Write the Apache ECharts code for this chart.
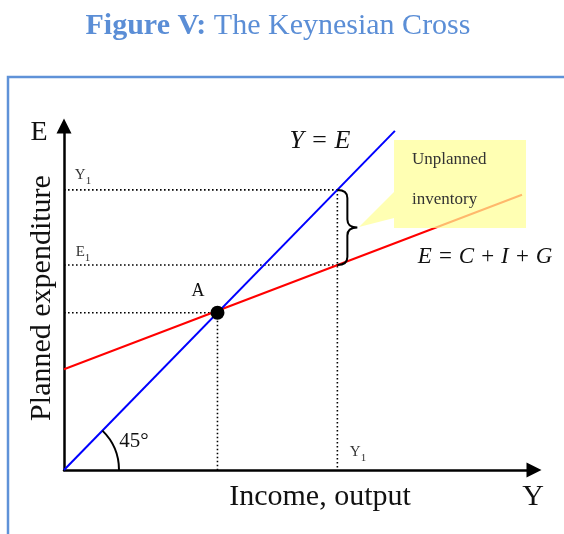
<!DOCTYPE html>
<html><head><meta charset="utf-8">
<script src="https://cdn.jsdelivr.net/npm/echarts@6/dist/echarts.min.js"></script>
<style>html,body{margin:0;padding:0;background:#fff}#c{width:564px;height:534px}</style>
</head><body><div id="c"></div>
<script>
// ---- data (in plot units) ----
const blueLine = [[0, 0], [6.9, 6.9]];        // Y = E (45° line)
const redLine = [[0, 2.05], [9.55, 5.6]];     // E = C + I + G
const pointA = [3.2, 3.2];                    // equilibrium A
const Y1 = 5.7;                               // output level Y1
const E1 = 4.17;                              // planned expenditure at Y1
const yTickLabels = ['Y', 'E'];
const xTickLabels = ['Y'];
const subscript = '1';

const FONT = 'Liberation Serif';
const guideLines = [
  [[0, Y1], [Y1, Y1]],
  [[0, E1], [Y1, E1]],
  [[0, pointA[1]], pointA],
  [pointA, [pointA[0], 0]],
  [[Y1, Y1], [Y1, 0]]
];

const chart = echarts.init(document.getElementById('c'), null, {renderer: 'canvas'});
const axisCommon = {
  type: 'value', min: 0,
  axisLine: {show: true, onZero: false, symbol: ['none', 'triangle'], symbolSize: [15, 15],
             lineStyle: {color: '#000', width: 2.5}},
  axisTick: {show: false}, axisLabel: {show: false}, splitLine: {show: false}
};

const series = [];
guideLines.forEach(g => series.push({
  type: 'line', data: g, symbol: 'none', silent: true, z: 1,
  lineStyle: {color: '#000', width: 1.6, type: [1.6, 2.4]}
}));
series.push({type: 'line', data: redLine, symbol: 'none', z: 3, lineStyle: {color: '#ff0000', width: 2}});
series.push({type: 'line', data: blueLine, symbol: 'none', z: 3, lineStyle: {color: '#0000ff', width: 2}});
series.push({type: 'scatter', data: [pointA], symbolSize: 14, z: 5, itemStyle: {color: '#000', opacity: 1}});
series.push({
  type: 'custom', z: 4, data: [[Y1, Y1, E1]],
  renderItem: (params, api) => {
    const t = api.coord([api.value(0), api.value(1)]);
    const b = api.coord([api.value(0), api.value(2)]);
    const o = api.coord([0, 0]);
    const x = t[0], m = (t[1] + b[1]) / 2, xm = x + 10, xt = x + 20;
    const p = `M${x} ${t[1]} Q${xm} ${t[1]} ${xm} ${t[1] + 8} L${xm} ${m - 8} Q${xm} ${m} ${xt} ${m} ` +
              `Q${xm} ${m} ${xm} ${m + 8} L${xm} ${b[1] - 8} Q${xm} ${b[1]} ${x} ${b[1]}`;
    const bl = api.coord(blueLine[1]);
    const ang = Math.atan2(bl[1] - o[1], bl[0] - o[0]);
    return {type: 'group', children: [
      {type: 'path', shape: {pathData: p}, style: {stroke: '#000', fill: null, lineWidth: 2}},
      {type: 'arc', shape: {cx: o[0], cy: o[1], r: 55, startAngle: ang, endAngle: 0, clockwise: true},
       style: {stroke: '#000', fill: null, lineWidth: 2}}
    ]};
  }
});

function txt(text, x, y, size, opts) {
  return Object.assign({type: 'text', z: 120, x: x, y: y,
    style: Object.assign({text: text, font: `${size}px "${FONT}"`, fill: '#111',
      align: 'center', verticalAlign: 'middle'}, (opts && opts.style) || {})},
    opts && opts.el || {});
}
function subTxt(letter, x, y) {
  return {type: 'text', z: 120, x: x, y: y,
    style: {text: `{m|${letter}}{s|${subscript}}`, align: 'center', verticalAlign: 'middle',
      rich: {m: {fontSize: 15, fontFamily: FONT, fill: '#333', verticalAlign: 'bottom', lineHeight: 18},
             s: {fontSize: 11, fontFamily: FONT, fill: '#333', verticalAlign: 'bottom', lineHeight: 14, padding: [0, 0, -4, 0]}}}};
}

chart.setOption({
  animation: false,
  grid: {left: 64, top: 126, width: 470, height: 344},
  xAxis: Object.assign({}, axisCommon, {max: 9.8}),
  yAxis: Object.assign({}, axisCommon, {max: 7.0}),
  series: series,
  graphic: [
    {type: 'rect', z: 100, shape: {x: 8, y: 77, width: 620, height: 520},
     style: {stroke: '#5f92d8', lineWidth: 2.5, fill: null}},
    {type: 'text', z: 120, x: 278, y: 26,
     style: {text: '{b|Figure V:} The Keynesian Cross', font: `30px "${FONT}"`, fill: '#5b8ed6',
             align: 'center', verticalAlign: 'middle',
             rich: {b: {fontWeight: 'bold', fontSize: 30, fontFamily: FONT, fill: '#5b8ed6'}}}},
    {type: 'polygon', z: 110,
     shape: {points: [[394, 140], [526, 140], [526, 228], [394, 228], [394, 218], [359, 227], [394, 192]]},
     style: {fill: 'rgba(255,255,150,0.72)', stroke: null}},
    txt('Unplanned', 412, 160, 17, {style: {align: 'left', fill: '#333'}}),
    txt('inventory', 412, 200, 17, {style: {align: 'left', fill: '#333'}}),
    txt('E', 39, 133, 28),
    txt('Planned expenditure', 42, 298, 30, {el: {rotation: Math.PI / 2}}),
    txt('Income, output', 320, 497, 30),
    txt('Y', 533, 497, 30),
    txt('Y = E', 320, 141, 26, {style: {font: `italic 26px "${FONT}"`}}),
    txt('E = C + I + G', 485, 257, 23, {style: {font: `italic 23px "${FONT}"`}}),
    subTxt(yTickLabels[0], 83, 174),
    subTxt(yTickLabels[1], 83, 251),
    subTxt(xTickLabels[0], 358, 451),
    txt('A', 198, 291, 18),
    txt('45°', 134, 441, 21)
  ]
});
</script></body></html>
